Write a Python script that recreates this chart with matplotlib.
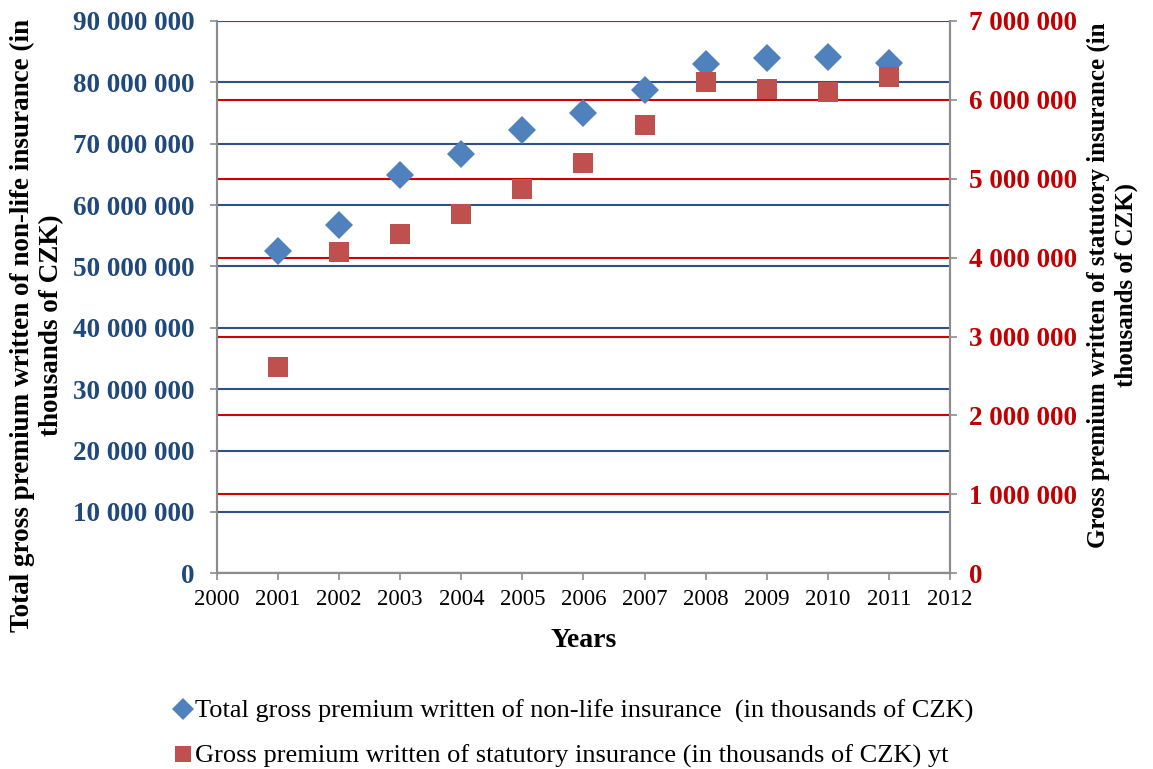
import matplotlib.pyplot as plt
from matplotlib.ticker import FuncFormatter, MultipleLocator

# data (thousands of CZK)
years = [2001, 2002, 2003, 2004, 2005, 2006, 2007, 2008, 2009, 2010, 2011]
total_nonlife = [52.6e6, 56.7e6, 64.9e6, 68.4e6, 72.2e6, 75.0e6, 78.8e6, 83.0e6, 84.0e6, 84.2e6, 83.1e6]
statutory = [2.62e6, 4.07e6, 4.30e6, 4.55e6, 4.87e6, 5.20e6, 5.68e6, 6.23e6, 6.14e6, 6.10e6, 6.29e6]

label_total = "Total gross premium written of non-life insurance  (in thousands of CZK)"
label_stat = "Gross premium written of statutory insurance (in thousands of CZK) yt"

blue_txt = "#1F497D"
red_txt = "#C00000"
grey = "#8C8C8C"

plt.rcParams['font.family'] = ['Liberation Serif', 'DejaVu Serif']


def spaced(v, pos):
    return f"{int(round(v)):,}".replace(",", " ")


fig = plt.figure(figsize=(11.53, 7.69), dpi=100)
ax = fig.add_axes([0.1882, 0.2545, 0.8239 - 0.1882, 0.9727 - 0.2545])
ax2 = ax.twinx()
# left axis on top so all markers sit above both sets of gridlines
ax.set_zorder(ax2.get_zorder() + 1)
ax.patch.set_visible(False)

ax.plot(years, total_nonlife, linestyle='none', marker='D', markersize=14.5,
        color='#4F81BD', markeredgewidth=0, label=label_total, zorder=3)
ax.plot(years, statutory, linestyle='none', marker='s', markersize=15,
        color='#C0504D', markeredgewidth=0, label=label_stat, zorder=4,
        transform=ax2.transData)

ax.set_xlim(2000, 2012)
ax.set_ylim(0, 90e6)
ax2.set_ylim(0, 7e6)
ax.xaxis.set_major_locator(MultipleLocator(1))
ax.yaxis.set_major_locator(MultipleLocator(10e6))
ax2.yaxis.set_major_locator(MultipleLocator(1e6))
ax.yaxis.set_major_formatter(FuncFormatter(spaced))
ax2.yaxis.set_major_formatter(FuncFormatter(spaced))

ax.grid(axis='y', color='#2F5286', linewidth=1.5)
ax.grid(axis='x', visible=False)
ax2.grid(axis='y', color='#D00000', linewidth=1.5)

for a in (ax, ax2):
    for side in ('left', 'right', 'bottom'):
        a.spines[side].set_color(grey)
        a.spines[side].set_linewidth(1.5)
    a.spines['top'].set_visible(False)

ax.tick_params(axis='y', colors=grey, length=5, width=1.2, pad=11)
ax.tick_params(axis='x', colors=grey, length=5, width=1.2, pad=6)
ax2.tick_params(axis='y', colors=grey, length=5, width=1.2, pad=9)
for t in ax.get_yticklabels():
    t.set_color(blue_txt)
    t.set_fontweight('bold')
    t.set_fontsize(19.5)
for t in ax2.get_yticklabels():
    t.set_color(red_txt)
    t.set_fontweight('bold')
    t.set_fontsize(19.5)
for t in ax.get_xticklabels():
    t.set_color('black')
    t.set_fontsize(16.5)

ax.set_xlabel("Years", fontsize=20, fontweight='bold', labelpad=13)

fig.text(0.032, 0.577, "Total gross premium written of non-life insurance (in\nthousands of CZK)",
         rotation=90, ha='center', va='center', multialignment='center',
         fontsize=19.5, fontweight='bold', linespacing=1.2)
fig.text(0.9645, 0.629, "Gross premium written of statutory insurance (in\nthousands of CZK)",
         rotation=90, ha='center', va='center', multialignment='center',
         fontsize=18, fontweight='bold', linespacing=1.25)

fig.legend(loc='upper left', bbox_to_anchor=(0.143, 0.104), frameon=False,
           fontsize=19, handlelength=0.6, handletextpad=0.15, labelspacing=0.8,
           markerscale=0.8, borderaxespad=0)

fig.savefig("out.png", dpi=100)
